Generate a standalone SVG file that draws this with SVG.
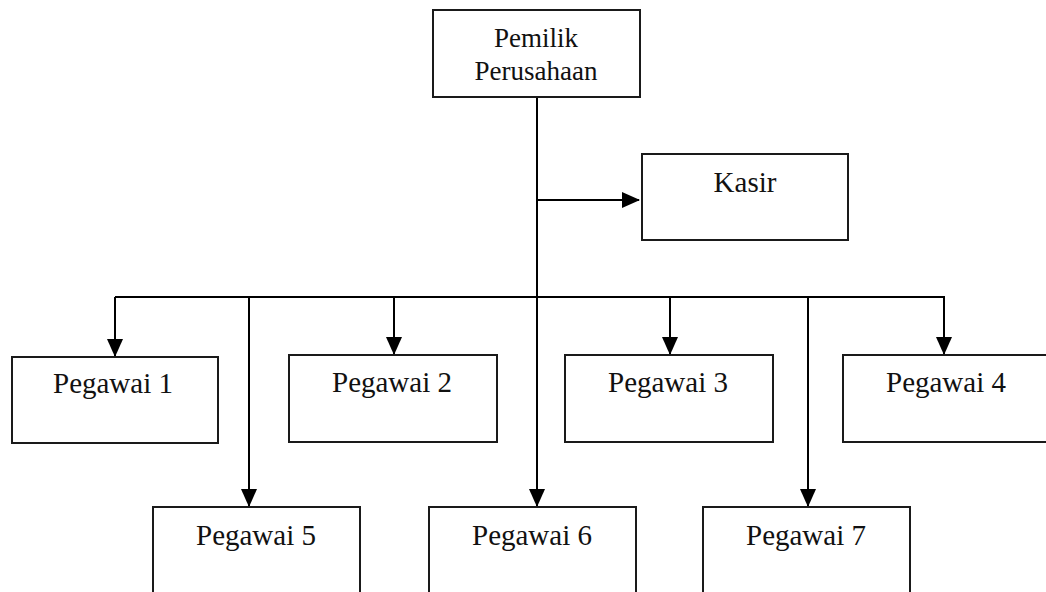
<svg xmlns="http://www.w3.org/2000/svg" width="1046" height="592" viewBox="0 0 1046 592">
<style>
.box{fill:#fff;stroke:#1a1a1a;stroke-width:2}
.t{font-family:"Liberation Serif","Times New Roman",serif;font-size:29px;fill:#111;text-anchor:middle}
.t2{font-family:"Liberation Serif","Times New Roman",serif;font-size:27px;fill:#111;text-anchor:middle}
.c{fill:none;stroke:#000;stroke-width:2}
</style>
<defs>
<marker id="ah" markerUnits="userSpaceOnUse" markerWidth="18" markerHeight="16" viewBox="0 0 18 16" refX="17" refY="8" orient="auto">
<path d="M0,0 L18,8 L0,16 Z" fill="#000"/>
</marker>
</defs>
<rect width="1046" height="592" fill="#fff"/>
<g id="connectors">
<path class="c" d="M537,97 V296"/>
<path class="c" d="M537,200 H639" marker-end="url(#ah)"/>
<path class="c" d="M115,297 H945"/>
<path class="c" d="M115,297 V356" marker-end="url(#ah)"/>
<path class="c" d="M394,297 V354" marker-end="url(#ah)"/>
<path class="c" d="M670,297 V354" marker-end="url(#ah)"/>
<path class="c" d="M944,297 V354" marker-end="url(#ah)"/>
<path class="c" d="M249,297 V506" marker-end="url(#ah)"/>
<path class="c" d="M537,296 V506" marker-end="url(#ah)"/>
<path class="c" d="M808,297 V506" marker-end="url(#ah)"/>
</g>
<g id="pemilik"><rect class="box" x="433" y="10" width="207" height="87"/><text class="t2" x="536" y="47">Pemilik</text><text class="t2" x="536" y="80">Perusahaan</text></g>
<g id="kasir"><rect class="box" x="642" y="154" width="206" height="86"/><text class="t" x="745" y="192">Kasir</text></g>
<g id="pegawai1"><rect class="box" x="12" y="357" width="206" height="86"/><text class="t" x="113" y="393">Pegawai 1</text></g>
<g id="pegawai2"><rect class="box" x="289" y="355" width="208" height="87"/><text class="t" x="392" y="392">Pegawai 2</text></g>
<g id="pegawai3"><rect class="box" x="565" y="355" width="208" height="87"/><text class="t" x="668" y="392">Pegawai 3</text></g>
<g id="pegawai4"><rect class="box" x="843" y="355" width="210" height="87"/><text class="t" x="946" y="392">Pegawai 4</text></g>
<g id="pegawai5"><rect class="box" x="153" y="507" width="207" height="95"/><text class="t" x="256" y="545">Pegawai 5</text></g>
<g id="pegawai6"><rect class="box" x="429" y="507" width="207" height="95"/><text class="t" x="532" y="545">Pegawai 6</text></g>
<g id="pegawai7"><rect class="box" x="703" y="507" width="207" height="95"/><text class="t" x="806" y="545">Pegawai 7</text></g>
</svg>
